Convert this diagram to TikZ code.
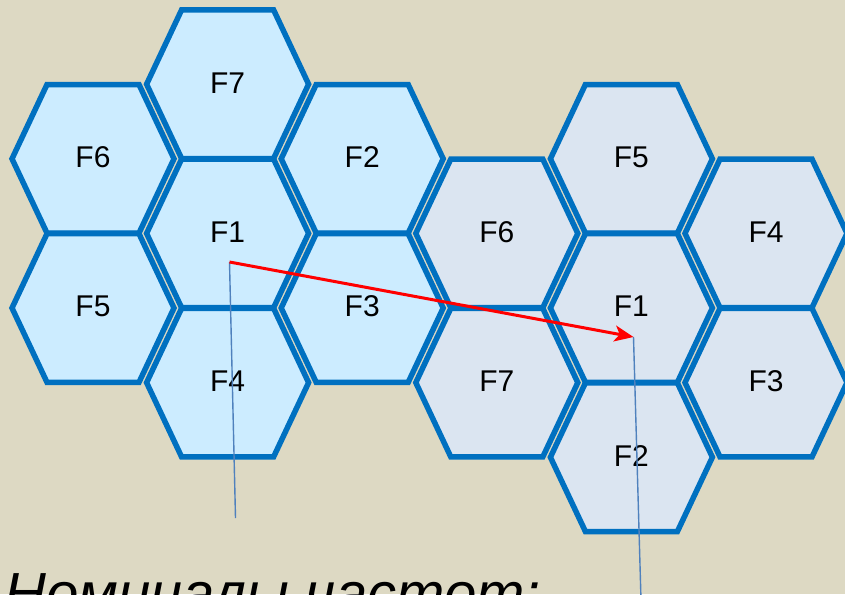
\documentclass[tikz,border=0pt]{standalone}
\usepackage{fontspec}
\setmainfont{Liberation Sans}
\usetikzlibrary{arrows.meta}
\definecolor{bgtan}{HTML}{DDD9C3}
\definecolor{hexline}{HTML}{0070C0}
\definecolor{leftfill}{HTML}{CCECFF}
\definecolor{rightfill}{HTML}{DBE5F1}
\definecolor{guide}{HTML}{4F81BD}
\tikzset{
  hexbase/.style={draw=hexline, line width=5.5pt, line join=miter},
  hexleft/.style={hexbase, fill=leftfill},
  hexright/.style={hexbase, fill=rightfill},
  lbl/.style={font=\fontsize{30}{30}\selectfont, inner sep=0pt, text=black},
  guideline/.style={draw=guide, line width=1.4pt},
  jump/.style={draw=red, line width=3pt, -{Stealth[length=19pt,width=16pt,inset=5pt]}}
}
\begin{document}
\begin{tikzpicture}[x=1pt,y=-1pt]
\fill[bgtan] (0,0) rectangle (845,594);
\useasboundingbox (0,0) rectangle (845,594);
% left cluster
\foreach \n/\x/\y/\t in {L7/227.6/84.2/F7, L6/93/158.8/F6, L2/362.2/158.8/F2, L1/227.6/233.4/F1, L5/93/308/F5, L3/362.2/308/F3, L4/227.6/382.6/F4}{
  \draw[hexleft] (\x+81,\y) -- (\x+46,\y-74.3) -- (\x-46,\y-74.3) -- (\x-81,\y) -- (\x-46,\y+74.3) -- (\x+46,\y+74.3) -- cycle;
  \node[lbl] (\n) at (\x,\y-1.5) {\t};
}
% right cluster
\foreach \n/\x/\y/\t in {R5/631.4/158.8/F5, R6/496.8/233.4/F6, R4/766/233.4/F4, R1/631.4/308/F1, R7/496.8/382.6/F7, R3/766/382.6/F3, R2/631.4/457.2/F2}{
  \draw[hexright] (\x+81,\y) -- (\x+46,\y-74.3) -- (\x-46,\y-74.3) -- (\x-81,\y) -- (\x-46,\y+74.3) -- (\x+46,\y+74.3) -- cycle;
  \node[lbl] (\n) at (\x,\y-1.5) {\t};
}
\coordinate (p1) at (229.5,262);
\coordinate (p2) at (633.5,337);
\coordinate (e1) at (235.5,518);
\coordinate (e2) at (641,600);
\draw[guideline] (p1) -- (e1);
\draw[guideline] (p2) -- (e2);
\draw[jump] (p1) -- (p2);
\node[anchor=base west, inner sep=0pt, font=\fontsize{58}{58}\selectfont\itshape] (caption) at (4,613) {Номиналы частот:};
\end{tikzpicture}
\end{document}
